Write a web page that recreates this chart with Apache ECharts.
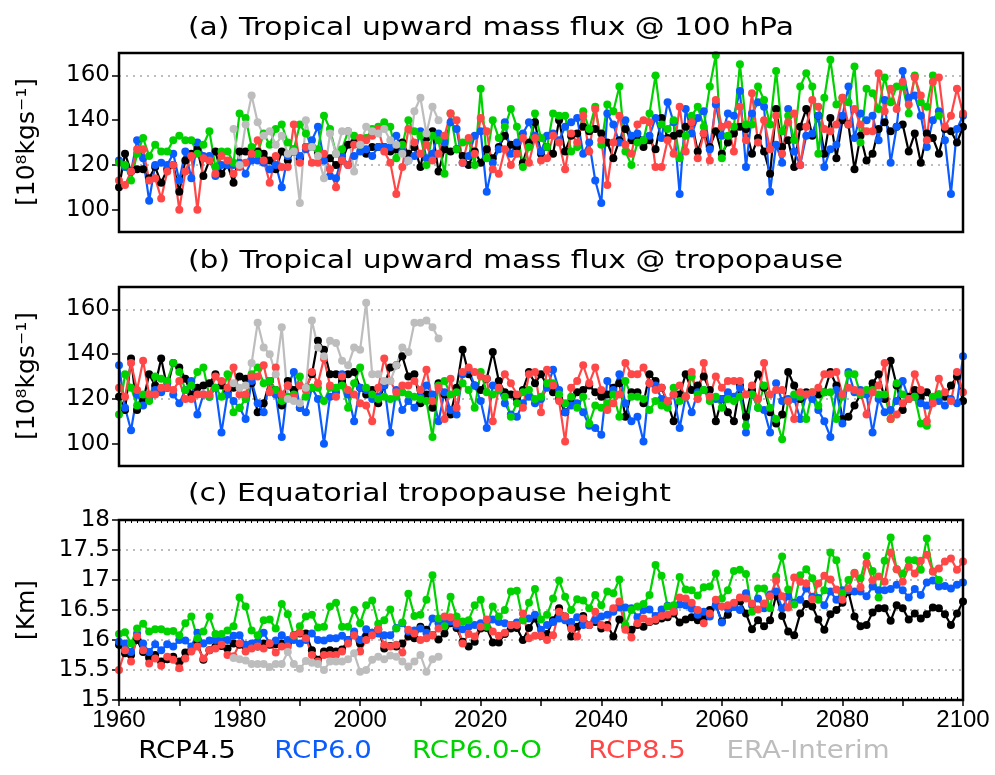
<!DOCTYPE html>
<html><head><meta charset="utf-8">
<script src="https://cdn.jsdelivr.net/npm/echarts@6/dist/echarts.min.js"></script>
<style>html,body{margin:0;padding:0;background:#fff}#c{width:995px;height:775px}</style>
</head><body><div id="c"></div>
<script>
// ---------------- DATA ----------------
const START_YEAR = 1960;
const ERA_START_YEAR = 1979;
const seriesNames = ['RCP4.5', 'RCP6.0', 'RCP6.0-O', 'RCP8.5', 'ERA-Interim'];
const fluxTickValues = [100, 120, 140, 160];
const heightTickValues = [15, 15.5, 16, 16.5, 17, 17.5, 18];
const yearLabelValues = [1960, 1980, 2000, 2020, 2040, 2060, 2080, 2100];

// (a) Tropical upward mass flux @ 100 hPa, 1960-2100
const a_rcp45 = [
110,125,117,118,118,114,119,112,118,120,
108,122,125,127,115,122,126,116,120,112,
126,126,125,126,125,122,118,126,122,126,
123,128,128,125,123,123,120,122,129,130,
129,125,128,128,128,126,127,130,125,128,
119,132,135,117,127,126,127,124,120,126,
121,127,123,128,133,129,128,121,130,139,
125,128,125,140,126,133,134,137,135,136,
134,130,123,131,136,131,132,128,131,127,
141,132,133,134,137,139,126,134,128,135,
125,130,134,137,136,125,132,126,116,145,
128,131,119,137,145,133,142,125,141,123,
140,138,118,133,122,125,136,139,135,137,
138,126,134,121,134,132,125,136,135,130,
137];
const a_rcp60 = [
122,119,117,131,123,104,120,121,120,125,
113,126,114,130,124,124,115,120,120,120,
121,116,122,122,121,118,120,110,124,127,
124,127,131,137,122,115,114,124,120,124,
126,127,124,128,128,128,133,126,122,124,
135,123,125,134,130,139,136,121,124,133,
135,108,121,127,139,125,130,134,139,133,
126,133,134,131,137,139,141,125,130,113,
103,143,138,130,140,133,134,131,133,141,
132,148,139,107,145,134,141,144,127,147,
133,143,142,153,119,143,148,146,108,129,
121,145,126,120,133,134,142,119,127,129,
142,155,132,143,140,142,131,149,121,137,
162,150,151,142,128,140,144,131,107,136,
142];
const a_rcp60o = [
121,120,113,125,132,124,129,126,126,131,
133,131,131,125,129,135,119,126,126,121,
143,141,128,125,134,129,136,138,130,127,
138,134,128,127,142,136,125,127,135,133,
129,132,136,137,139,137,123,129,140,135,
133,120,133,131,116,143,127,130,131,120,
154,123,140,132,137,145,137,119,128,143,
132,128,143,142,142,126,128,144,136,146,
129,147,144,155,126,120,130,131,143,160,
138,136,140,123,133,142,146,137,155,169,
123,133,137,165,138,138,155,149,138,162,
135,142,131,155,161,155,125,150,167,147,
150,148,164,130,154,152,145,159,148,155,
155,143,160,148,146,160,142,null,null,null,
null];
const a_rcp85 = [
113,111,117,127,127,113,114,105,117,120,
100,117,124,100,123,122,116,124,122,116,
119,121,125,131,122,112,124,119,119,138,
121,128,121,121,125,118,110,122,120,129,
132,131,133,136,126,121,107,119,136,130,
125,129,122,125,133,143,140,121,132,125,
141,135,118,116,127,120,125,132,121,132,
122,123,133,130,118,134,130,142,126,145,
131,111,130,142,129,125,138,140,139,119,
119,131,125,146,126,139,123,134,122,149,
137,138,126,146,131,152,130,140,127,142,
125,139,143,120,137,149,146,136,135,138,
150,138,145,138,135,135,161,144,154,145,
157,147,159,151,131,157,159,137,142,154,
143];
// ERA-Interim 1979-2013
const a_era = [
136,120,138,151,139,133,135,129,133,125,126,103,140,128,124,114,134,125,
135,135,117,129,137,135,134,136,131,129,125,122,144,150,134,146,140];

// (b) Tropical upward mass flux @ tropopause, 1960-2100
const b_rcp45 = [
121,115,138,115,119,131,126,138,125,136,
134,129,122,125,126,127,131,126,123,125,
130,129,127,114,118,128,124,117,128,124,
116,125,131,146,142,131,131,128,131,132,
125,122,124,118,126,134,135,139,130,131,
118,122,116,127,122,113,125,142,131,126,
124,129,141,128,123,122,120,124,132,127,
131,126,123,120,114,118,123,124,126,123,
121,122,125,127,112,123,123,118,131,128,
125,118,110,122,131,124,126,130,124,110,
120,114,110,126,112,124,131,125,114,109,
113,132,126,120,123,121,122,123,132,126,
111,112,117,122,123,127,131,120,137,126,
115,121,124,121,123,119,122,121,126,130,
119];
const b_rcp60 = [
135,116,106,122,117,120,124,123,127,122,
118,124,128,113,122,121,125,105,122,119,
116,111,128,118,114,128,122,103,126,132,
116,114,125,120,100,121,123,131,122,110,
125,124,120,121,126,105,124,115,119,116,
121,126,122,110,123,115,113,131,133,126,
119,107,126,124,118,113,112,118,121,118,
120,125,133,124,114,117,118,114,108,107,
104,128,124,131,118,110,112,101,127,126,
120,118,122,107,121,114,123,124,121,120,
120,123,121,125,105,122,116,115,105,127,
119,120,120,111,122,120,115,110,103,124,
109,132,123,124,122,105,120,114,115,119,
128,120,121,118,117,120,119,117,120,118,
139];
const b_rcp60o = [
113,131,125,117,122,119,130,129,128,136,
132,124,126,132,134,121,125,121,131,114,
116,120,131,134,127,128,124,119,121,122,
130,121,125,125,119,125,125,126,116,127,
134,125,122,120,121,120,121,123,122,121,
120,119,103,126,128,122,123,127,124,116,
132,123,122,124,121,112,118,123,124,120,
121,127,127,122,118,121,116,121,109,117,
116,118,122,112,128,121,121,120,115,119,
117,116,125,119,121,130,122,124,119,121,
116,120,119,121,108,122,116,126,116,111,
102,119,122,121,111,123,117,123,123,111,
121,131,131,122,124,124,122,122,111,127,
122,120,121,109,108,121,122,null,null,null,
null];
const b_rcp85 = [
125,121,136,124,137,122,122,125,125,124,
128,120,120,122,122,122,130,128,125,134,
122,122,130,130,135,123,134,122,126,121,
126,124,132,127,138,126,121,130,124,122,
118,117,110,125,138,128,123,126,126,128,
124,133,119,125,111,129,116,132,134,132,
130,129,110,125,131,127,122,116,131,132,
114,133,126,119,101,125,128,135,127,134,
124,115,118,122,136,131,131,134,127,124,
125,119,122,126,121,132,120,136,121,130,
125,128,128,128,122,126,120,136,122,124,
124,119,111,123,122,123,125,131,131,132,
122,125,124,123,113,123,126,136,111,113,
118,120,131,124,110,118,129,123,119,132,
123];
const b_era = [
127,125,126,136,154,143,140,131,152,120,119,118,125,155,143,139,146,145,
137,135,143,142,163,131,131,128,128,135,143,141,154,154,155,152,147];

// (c) Equatorial tropopause height [km], 1960-2100
const c_rcp45 = [
15.92,15.78,15.75,16.0,15.8,15.7,15.75,15.64,15.68,15.72,
15.64,15.79,15.83,15.94,15.67,15.83,15.89,15.9,15.86,15.94,
15.92,15.89,15.9,15.89,15.94,15.92,15.93,15.94,15.94,16.08,
16.11,16.11,15.83,15.67,15.81,15.83,15.81,15.84,16.0,16.08,
15.94,16.06,16.12,16.18,15.86,15.9,15.89,15.94,16.06,16.03,
16.22,16.17,16.08,16.01,16.11,16.28,16.2,15.97,15.89,15.97,
16.19,16.2,15.96,15.96,16.1,16.19,16.2,16.0,16.2,16.36,
16.07,16.1,16.33,16.53,16.39,16.06,16.22,16.4,16.25,16.3,
16.19,16.25,16.06,16.34,16.22,16.17,16.25,16.22,16.3,16.32,
16.36,16.38,16.44,16.29,16.34,16.38,16.33,16.36,16.5,16.58,
16.31,16.42,16.56,16.64,16.44,16.18,16.33,16.23,16.33,16.75,
16.4,16.14,16.08,16.44,16.6,16.56,16.34,16.17,16.43,16.5,
16.62,16.8,16.39,16.23,16.25,16.46,16.53,16.53,16.32,16.58,
16.53,16.34,16.44,16.36,16.43,16.54,16.53,16.43,16.25,16.44,
16.64];
const c_rcp60 = [
15.97,15.94,15.8,16.11,15.94,15.8,15.93,15.83,15.93,15.89,
16.0,15.99,15.89,16.12,15.94,15.99,16.0,16.01,16.0,16.07,
16.08,15.92,15.94,15.97,16.12,15.94,15.99,16.08,16.0,16.0,
15.94,16.0,16.11,16.0,15.99,16.03,16.03,16.07,16.0,16.14,
16.0,16.18,16.12,16.11,16.08,16.08,16.2,16.28,16.14,16.16,
16.19,16.12,16.36,16.28,16.29,16.31,16.24,16.18,16.22,16.25,
16.28,16.3,16.34,16.3,16.28,16.25,16.29,16.33,16.36,16.42,
16.17,16.25,16.3,16.36,16.33,16.3,16.38,16.25,16.25,16.33,
16.39,16.42,16.47,16.54,16.54,16.53,16.38,16.5,16.51,16.4,
16.51,16.57,16.5,16.59,16.58,16.52,16.42,16.47,16.39,16.58,
16.29,16.52,16.55,16.5,16.78,16.58,16.69,16.53,16.76,16.81,
16.53,16.73,16.62,16.67,16.86,16.72,16.7,16.58,16.81,16.67,
16.83,16.83,16.81,16.81,16.73,16.89,16.83,16.83,16.85,16.92,
16.83,16.71,16.85,16.75,16.96,16.99,16.89,16.9,16.86,16.92,
16.96];
const c_rcp60o = [
16.1,16.13,15.94,16.19,16.27,16.14,16.18,16.18,16.14,16.15,
16.08,16.28,16.39,16.03,16.14,16.39,16.1,16.1,16.16,16.23,
16.71,16.56,16.16,16.08,16.33,16.34,16.19,16.6,16.43,16.07,
16.23,16.39,16.42,16.21,16.22,16.56,16.62,16.22,16.22,16.5,
16.28,16.58,16.66,16.27,16.33,16.51,16.19,16.29,16.77,16.4,
16.42,16.67,17.08,16.36,16.23,16.72,16.39,16.31,16.33,16.58,
16.67,16.22,16.56,16.39,16.5,16.81,16.82,16.33,16.62,16.85,
16.34,16.42,16.69,16.99,16.72,16.5,16.68,16.66,16.53,16.75,
16.58,16.81,16.78,17.01,16.25,16.5,16.56,16.6,16.75,17.25,
17.07,16.56,16.58,17.05,16.84,16.83,16.74,16.88,16.89,17.11,
16.69,16.83,17.15,17.17,17.1,16.47,16.86,16.86,16.53,17.06,
17.39,16.84,16.59,17.08,17.18,17.03,16.67,16.83,17.46,17.33,
16.78,17.0,17.12,17.03,17.4,17.15,16.71,17.32,17.71,17.18,
17.11,17.33,17.33,17.17,17.69,17.14,17.0,null,null,null,
null];
const c_rcp85 = [
15.5,15.83,15.64,16.06,15.83,15.61,15.69,15.57,15.72,15.67,
15.53,15.69,15.81,15.89,15.69,15.83,15.86,15.92,15.75,15.73,
15.94,15.81,15.86,15.89,15.86,15.94,15.79,15.89,15.89,16.08,
16.12,16.03,15.75,15.64,15.75,15.75,15.75,15.81,15.94,16.08,
15.81,16.0,16.08,16.18,15.92,15.89,15.92,15.79,16.17,16.11,
16.0,16.03,16.08,16.19,16.39,16.38,16.28,15.94,16.1,16.06,
16.22,16.34,16.14,16.07,16.12,16.25,16.25,16.44,16.03,16.07,
16.07,16.0,16.08,16.47,16.39,16.19,16.06,16.36,16.25,16.47,
16.25,16.21,16.53,16.64,16.17,16.04,16.28,16.36,16.31,16.34,
16.4,16.42,16.47,16.71,16.69,16.62,16.5,16.28,16.44,16.67,
16.56,16.58,16.62,16.71,16.69,16.61,16.51,16.61,16.73,16.99,
16.73,16.54,17.04,16.97,16.94,16.68,16.94,17.07,17.01,16.84,
16.67,16.86,17.11,16.88,17.28,16.99,17.06,16.97,17.46,17.18,
16.97,17.22,17.11,17.32,17.42,17.14,17.19,17.31,17.36,17.17,
17.31];
const c_era = [
15.7,15.68,15.66,15.6,15.6,15.6,15.55,15.6,15.6,15.8,15.6,15.52,15.65,15.62,
15.6,15.5,15.64,15.64,15.64,15.68,15.78,15.47,15.5,15.67,15.72,15.68,15.74,
15.72,15.64,15.56,15.64,15.75,15.47,15.68,15.72];

// ---------------- STYLE ----------------
const seriesColors = ['#000000', '#0a5cff', '#00d200', '#ff4747', '#bdbdbd'];
const FONT = '"DejaVu Sans", sans-serif';

function toPairs(start, arr) {
  return arr.map((v, i) => [start + i, v]).filter(p => p[1] !== null);
}
function makeSeries(nameIdx, start, arr, xi, yi) {
  const c = seriesColors[nameIdx];
  return {
    type: 'line', name: seriesNames[nameIdx],
    xAxisIndex: xi, yAxisIndex: yi,
    data: toPairs(start, arr),
    symbol: 'circle', symbolSize: 8, showSymbol: true,
    lineStyle: { width: 2.2, color: c }, itemStyle: { color: c },
    emphasis: { disabled: true }, animation: false, z: 2
  };
}
const panels = [
  [a_rcp45, a_rcp60, a_rcp60o, a_rcp85, a_era],
  [b_rcp45, b_rcp60, b_rcp60o, b_rcp85, b_era],
  [c_rcp45, c_rcp60, c_rcp60o, c_rcp85, c_era]
];
const series = [];
const panelX = [0, 1, 2];
panels.forEach((p, gi) => {
  p.forEach((arr, k) => {
    series.push(makeSeries(k, k === 4 ? ERA_START_YEAR : START_YEAR, arr, panelX[gi], gi));
  });
});

const grids = [
  { left: 119, right: 32, top: 53, height: 179 },
  { left: 119, right: 32, top: 287, height: 179 },
  { left: 119, right: 32, top: 520, height: 180 }
].map(g => Object.assign(g, { show: true, borderColor: '#000', borderWidth: 2.5, backgroundColor: 'transparent', z: 5 }));

const plainX = gi => ({
  type: 'value', gridIndex: gi, min: 1960, max: 2100, interval: 10,
  axisLine: { show: false }, axisTick: { show: false }, axisLabel: { show: false }, splitLine: { show: false }
});
const xAxes = [
  plainX(0), plainX(1),
  { type: 'value', gridIndex: 2, min: 1960, max: 2100, interval: 10,
    axisLine: { show: false },
    axisTick: { show: true, inside: false, length: 6, lineStyle: { color: '#000', width: 1.5 } },
    axisLabel: { show: true, margin: 8, color: '#000', fontFamily: '"Liberation Sans", Arial, sans-serif', fontSize: 24,
      formatter: v => (yearLabelValues.indexOf(v) >= 0 ? String(v) : '') },
    splitLine: { show: false } },
  { type: 'value', gridIndex: 2, min: 1960, max: 2100, interval: 1, position: 'bottom',
    axisLine: { show: false }, axisLabel: { show: false }, splitLine: { show: false },
    axisTick: { show: true, inside: true, length: 3, lineStyle: { color: '#000', width: 1 } } },
  { type: 'value', gridIndex: 2, min: 1960, max: 2100, interval: 1, position: 'top',
    axisLine: { show: false }, axisLabel: { show: false }, splitLine: { show: false },
    axisTick: { show: true, inside: true, length: 3, lineStyle: { color: '#000', width: 1 } } }
];

const fluxY = gi => ({
  type: 'value', gridIndex: gi, min: 90, max: 170, interval: 10,
  axisLine: { show: false },
  axisTick: { show: true, inside: false, length: 7, customValues: fluxTickValues, lineStyle: { color: '#000', width: 1.5 } },
  axisLabel: { show: true, margin: 9, color: '#000', fontFamily: FONT, fontSize: 23,
    customValues: fluxTickValues,
    formatter: v => (fluxTickValues.indexOf(v) >= 0 ? String(v) : '') },
  splitLine: { show: true, lineStyle: { color: ['rgba(0,0,0,0)', '#a8a8a8'], type: [2, 5], width: 1.5 } }
});
const yAxes = [
  fluxY(0), fluxY(1),
  { type: 'value', gridIndex: 2, min: 15, max: 18, interval: 0.5,
    axisLine: { show: false },
    axisTick: { show: true, inside: false, length: 7, lineStyle: { color: '#000', width: 1.5 } },
    axisLabel: { show: true, margin: 9, color: '#000', fontFamily: FONT, fontSize: 23,
      formatter: v => (heightTickValues.indexOf(v) >= 0 ? String(v) : '') },
    splitLine: { show: true, showMinLine: false, showMaxLine: false,
      lineStyle: { color: '#a8a8a8', type: [2, 5], width: 1.5 } } }
];

const titleText = (t, y) => ({
  type: 'text', x: 188, y: y, scaleX: 1.24, z: 10,
  style: { text: t, fill: '#000', fontFamily: FONT, fontSize: 24, textAlign: 'left', textVerticalAlign: 'middle' }
});
const yName = (t, y) => ({
  type: 'text', x: 27, y: y, rotation: Math.PI / 2, z: 10,
  style: { text: t, fill: '#000', fontFamily: FONT, fontSize: 25, textAlign: 'center', textVerticalAlign: 'middle' }
});
const legendCenters = [187, 323, 477, 637, 808];
const legendItems = seriesNames.map((n, k) => ({
  type: 'text', x: legendCenters[k], y: 752, scaleX: 1.15, z: 10,
  style: { text: n, fill: seriesColors[k], fontFamily: FONT, fontSize: 24, textAlign: 'center', textVerticalAlign: 'middle' }
}));

const option = {
  backgroundColor: '#fff',
  animation: false,
  grid: grids,
  xAxis: xAxes,
  yAxis: yAxes,
  series: series,
  graphic: [
    titleText('(a) Tropical upward mass flux @ 100 hPa', 29),
    titleText('(b) Tropical upward mass flux @ tropopause', 262),
    titleText('(c) Equatorial tropopause height', 495),
    yName('[10\u2078kgs\u207B\u00B9]', 142),
    yName('[10\u2078kgs\u207B\u00B9]', 376),
    yName('[Km]', 610)
  ].concat(legendItems)
};
const chart = echarts.init(document.getElementById('c'), null, { renderer: 'canvas' });
chart.setOption(option);
</script></body></html>
